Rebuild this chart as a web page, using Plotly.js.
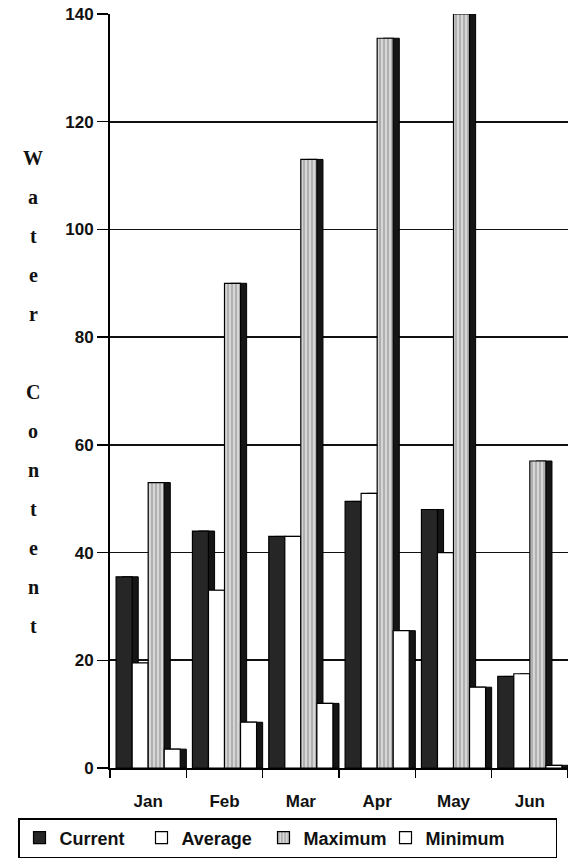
<!DOCTYPE html>
<html><head><meta charset="utf-8">
<script src="https://cdn.plot.ly/plotly-3.0.1.min.js"></script>
<style>body{margin:0;background:#fff}#chart{width:568px;height:862px}</style>
</head><body><div id="chart"></div>
<script>
// ---- data ----
const months = ['Jan','Feb','Mar','Apr','May','Jun'];
const current = [35.5, 44, 43, 49.5, 48, 17];
const average = [19.5, 33, 43, 51, 40, 17.5];
const maximum = [53, 90, 113, 135.5, 140, 57];
const minimum = [3.5, 8.5, 12, 25.5, 15, 0.5];
const seriesNames = ['Current','Average','Maximum','Minimum'];
const yTickVals = [0,20,40,60,80,100,120,140];
const axisTitle = 'Water Content';

// ---- style ----
const seriesData = [current, average, maximum, minimum];
const faceColors = ['#262626', '#ffffff', '#cfcfcf', '#ffffff'];
const offsets = [-0.42, -0.21, 0.0, 0.21];
const barW = 0.21, depth = 0.08;
const sans = 'Liberation Sans, Arial, sans-serif';
const serif = 'Liberation Serif, Times New Roman, serif';

const traces = [];
seriesData.forEach((vals, i) => {
  // depth side (3D look)
  traces.push({
    type: 'bar', x: months, y: vals, offset: offsets[i] + depth, width: barW,
    marker: {color: '#151515', line: {color: '#000', width: 1}},
    showlegend: false, hoverinfo: 'skip'
  });
  const front = {
    type: 'bar', name: seriesNames[i], x: months, y: vals,
    offset: offsets[i], width: barW,
    marker: {color: faceColors[i], line: {color: '#000', width: 1.2}}
  };
  if (i === 2) {
    front.marker.pattern = {shape: '|', fgcolor: '#8a8a8a', bgcolor: '#d6d6d6', size: 4, solidity: 0.25};
  }
  if (i === 3) front.legendwidth = 125;
  traces.push(front);
});

// stacked letters of the y-axis title
const plotTop = 14, plotBottom = 768, plotH = plotBottom - plotTop;
const annotations = [];
axisTitle.split('').forEach((ch, i) => {
  if (ch === ' ') return;
  const py = 158 + 39 * i;
  annotations.push({
    text: ch, xref: 'paper', yref: 'paper',
    x: (33 - 110) / 458, y: (plotBottom - py) / plotH,
    xanchor: 'center', yanchor: 'middle', showarrow: false,
    font: {family: serif, size: 20, color: '#111', weight: 'bold'}
  });
});

const layout = {
  width: 568, height: 862,
  margin: {l: 110, r: 0, t: plotTop, b: 862 - plotBottom},
  paper_bgcolor: '#fff', plot_bgcolor: '#fff',
  barmode: 'overlay',
  showlegend: true,
  xaxis: {
    type: 'category', categoryarray: months,
    showgrid: false, showline: true, linecolor: '#000', linewidth: 2,
    ticks: 'outside', tickson: 'boundaries', ticklen: 8, tickcolor: '#000', tickwidth: 1.5,
    ticklabelstandoff: 17,
    tickfont: {family: sans, size: 17, color: '#111', weight: 'bold'},
    range: [-0.5, 5.5], fixedrange: true
  },
  yaxis: {
    range: [0, 140], tickvals: yTickVals, ticktext: yTickVals.map(String),
    showgrid: true, gridcolor: '#111', gridwidth: 1.8,
    showline: true, linecolor: '#000', linewidth: 2,
    ticks: 'outside', ticklen: 11, tickcolor: '#000', tickwidth: 1.5,
    tickfont: {family: sans, size: 17, color: '#111', weight: 'bold'},
    zeroline: false, fixedrange: true
  },
  legend: {
    orientation: 'h', x: (18 - 110) / 458, xanchor: 'left',
    y: (plotBottom - 818) / plotH, yanchor: 'top',
    bordercolor: '#000', borderwidth: 1.5, bgcolor: '#fff',
    entrywidth: 77, traceorder: 'normal',
    font: {family: sans, size: 18, color: '#111', weight: 'bold'}
  },
  annotations: annotations
};

Plotly.newPlot('chart', traces, layout, {displayModeBar: false, staticPlot: true});
</script>
</body></html>
